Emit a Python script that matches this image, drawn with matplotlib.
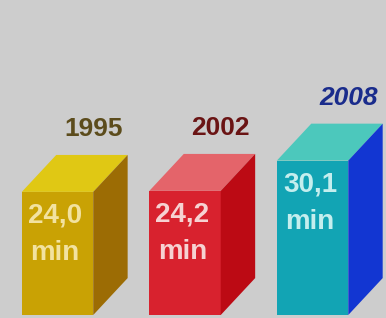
import matplotlib
matplotlib.use('Agg')
import matplotlib.pyplot as plt
from matplotlib.patches import Polygon

years = ['1995', '2002', '2008']
minutes = [24.0, 24.2, 30.1]
labels = ['24,0\nmin', '24,2\nmin', '30,1\nmin']
front_colors = ['#c9a204', '#d8222e', '#12a4b4']
top_colors = ['#e0c814', '#e4646a', '#4cc8bc']
side_colors = ['#9c6c04', '#bc0a14', '#1236d2']
text_colors = ['#f2e2a0', '#f6d2d2', '#c4eeee']
year_colors = ['#5c4c1c', '#6a1414', '#1a2c8c']
year_styles = ['normal', 'normal', 'italic']

plt.rcParams['font.family'] = ['Liberation Sans', 'DejaVu Sans']

fig = plt.figure(figsize=(3.86, 3.18), dpi=100)
fig.patch.set_facecolor('#cdcdcd')
ax = fig.add_axes([0, 0, 1, 1])
ax.set_facecolor('#cdcdcd')

width = 0.56
dx, dy = 0.27, 7.2   # depth of the boxes

for i, v in enumerate(minutes):
    l, r = i - width / 2, i + width / 2
    ax.bar(i, v, width=width, color=front_colors[i], zorder=2)
    top = Polygon([(l, v), (r, v), (r + dx, v + dy), (l + dx, v + dy)],
                  closed=True, facecolor=top_colors[i], edgecolor='none', zorder=2)
    side = Polygon([(r, 0), (r + dx, dy), (r + dx, v + dy), (r, v)],
                   closed=True, facecolor=side_colors[i], edgecolor='none', zorder=2)
    ax.add_patch(top)
    ax.add_patch(side)
    num, unit = labels[i].split('\n')
    ax.text(i - 0.02, v - 4.6, num, ha='center', va='center', fontsize=20,
            fontweight='bold', color=text_colors[i], zorder=3)
    ax.text(i - 0.02, v - 11.9, unit, ha='center', va='center', fontsize=20,
            fontweight='bold', color=text_colors[i], zorder=3)
    ax.text(r, v + 12.2, years[i], ha='center', va='center', fontsize=19,
            fontweight='bold', fontstyle=year_styles[i], color=year_colors[i], zorder=3)

ax.set_xlim(-0.451, 2.576)
ax.set_ylim(-0.58, 61.4)
ax.axis('off')

fig.savefig('out.png', dpi=100, facecolor=fig.get_facecolor())
